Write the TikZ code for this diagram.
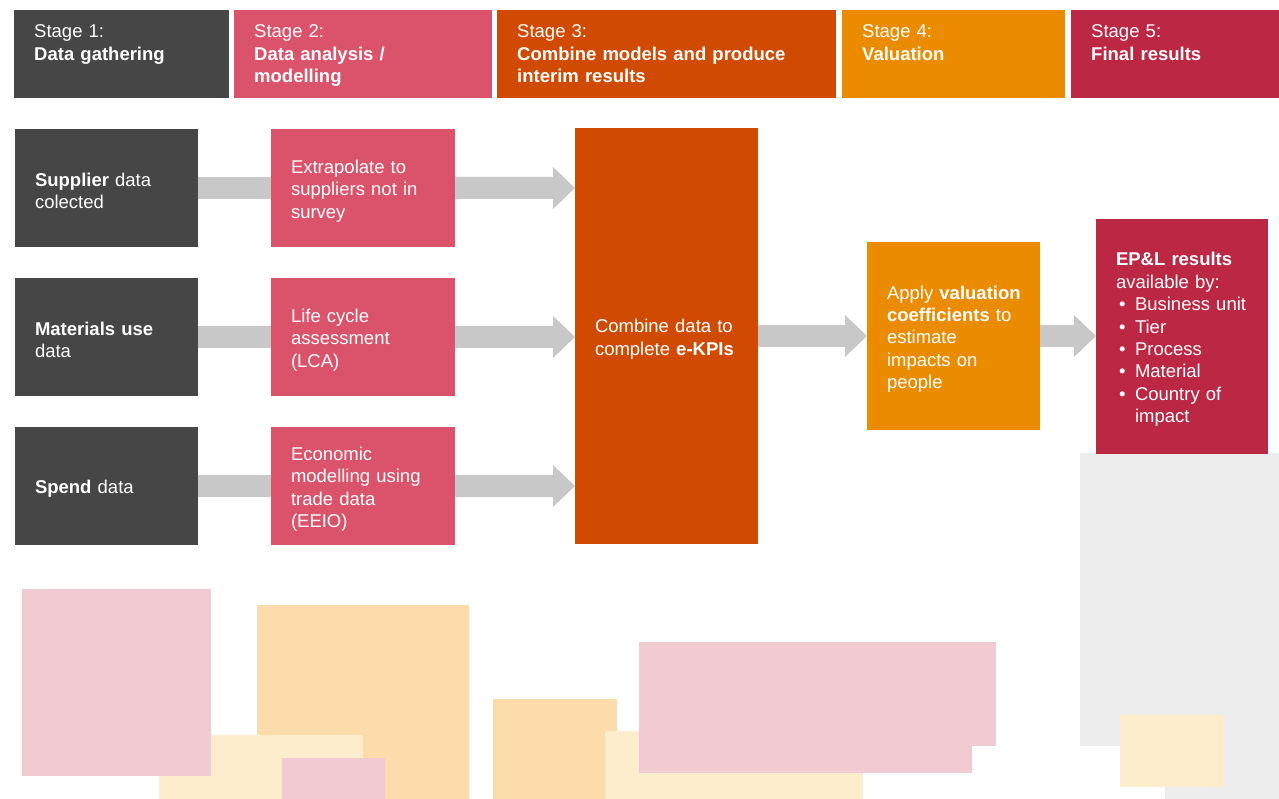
\documentclass[tikz,border=0pt]{standalone}
\usepackage{fontspec}
\setmainfont{Liberation Sans}
\usetikzlibrary{calc}
\definecolor{cdark}{HTML}{464646}
\definecolor{crose}{HTML}{DB536A}
\definecolor{corange}{HTML}{D04A02}
\definecolor{ctang}{HTML}{EB8C00}
\definecolor{cred}{HTML}{BC2743}
\definecolor{carrow}{HTML}{C8C8C8}
\definecolor{lpink}{HTML}{F2CAD2}
\definecolor{lorange}{HTML}{FDDCAC}
\definecolor{lyellow}{HTML}{FEEDCC}
\definecolor{lgray}{HTML}{EDEDED}
\hyphenpenalty=10000
\begin{document}
\begin{tikzpicture}[x=1pt,y=-1pt,
  txt/.style={font=\fontsize{18.5}{22.4}\selectfont, text=white, align=left},
  box/.style={txt, anchor=north west, inner xsep=20pt, inner ysep=0pt, outer sep=0pt,
    execute at begin node={\rule{0pt}{19.5pt}}},
  hdrbox/.style={anchor=north west, inner sep=0pt, outer sep=0pt, minimum height=88pt},
  hdrtxt/.style={txt, anchor=base west, inner sep=0pt},
  fat/.style={to path={-- ($(\tikztostart)+(0,-11)$) -- ($(\tikztotarget)+(-22,-11)$) -- ($(\tikztotarget)+(-22,-21)$) -- (\tikztotarget) -- ($(\tikztotarget)+(-22,21)$) -- ($(\tikztotarget)+(-22,11)$) -- ($(\tikztostart)+(0,11)$) -- cycle}}
]
\useasboundingbox (0,0) rectangle (1279,799);

% header
\node[hdrbox, fill=cdark, minimum width=215pt] (h1) at (14,10) {};
\node[hdrbox, fill=crose, minimum width=258pt] (h2) at (234,10) {};
\node[hdrbox, fill=corange, minimum width=339pt] (h3) at (497,10) {};
\node[hdrbox, fill=ctang, minimum width=223pt] (h4) at (842,10) {};
\node[hdrbox, fill=cred, minimum width=208pt] (h5) at (1071,10) {};
\node[hdrtxt, text width=190pt] (t1) at ($(h1.north west)+(20,28)$) {Stage 1:\\\textbf{Data gathering}};
\node[hdrtxt, text width=230pt] (t2) at ($(h2.north west)+(20,28)$) {Stage 2:\\\textbf{Data analysis /}\\\textbf{modelling}};
\node[hdrtxt, text width=310pt] (t3) at ($(h3.north west)+(20,28)$) {Stage 3:\\\textbf{Combine models and produce}\\\textbf{interim results}};
\node[hdrtxt, text width=190pt] (t4) at ($(h4.north west)+(20,28)$) {Stage 4:\\\textbf{Valuation}};
\node[hdrtxt, text width=180pt] (t5) at ($(h5.north west)+(20,28)$) {Stage 5:\\\textbf{Final results}};

% stage 1 boxes
\node[box, fill=cdark, text width=143pt, minimum height=118pt] (s1) at (15,129) {\textbf{Supplier} data\\colected};
\node[box, fill=cdark, text width=143pt, minimum height=118pt] (s2) at (15,278) {\textbf{Materials use}\\data};
\node[box, fill=cdark, text width=143pt, minimum height=118pt] (s3) at (15,427) {\textbf{Spend} data};
% stage 2 boxes
\node[box, fill=crose, text width=144pt, minimum height=118pt] (p1) at (271,129) {Extrapolate to\\suppliers not in\\survey};
\node[box, fill=crose, text width=144pt, minimum height=118pt] (p2) at (271,278) {Life cycle\\assessment\\(LCA)};
\node[box, fill=crose, text width=144pt, minimum height=118pt] (p3) at (271,427) {Economic\\modelling using\\trade data\\(EEIO)};
% stage 3
\node[box, fill=corange, text width=143pt, minimum height=416pt] (o) at (575,128) {Combine data to\\complete \textbf{e-KPIs}};
% stage 4
\node[box, fill=ctang, text width=133pt, minimum height=188pt] (v) at (867,242) {\mbox{Apply \textbf{valuation}}\\\mbox{\textbf{coefficients} to}\\estimate\\impacts on\\people};

% decorative shapes (bottom)
\fill[lgray] (1080,453) rectangle (1279,746);
\fill[lgray] (1165,746) rectangle (1279,799);
\fill[lyellow] (1120,715) rectangle (1224,787);
\fill[lorange] (257,605) rectangle (469,799);
\fill[lyellow] (159,735) rectangle (363,799);
\fill[lpink] (22,589) rectangle (211,776);
\fill[lpink] (282,758) rectangle (385,799);
\fill[lorange] (493,699) rectangle (617,799);
\fill[lyellow] (605,731) rectangle (863,799);
\fill[lpink] (639,642) rectangle (996,746);
\fill[lpink] (639,746) rectangle (972,773);

% stage 5
\node[box, fill=cred, text width=132pt, minimum height=235pt] (f) at (1096,219) {\textbf{EP\&L results}\\available by:\\\makebox[19pt][l]{\hspace{3pt}•}Business unit\\\makebox[19pt][l]{\hspace{3pt}•}Tier\\\makebox[19pt][l]{\hspace{3pt}•}Process\\\makebox[19pt][l]{\hspace{3pt}•}Material\\\makebox[19pt][l]{\hspace{3pt}•}Country of\\\hspace*{19pt}impact};

% arrows
\fill[carrow] ($(s1.east)+(0,-11)$) rectangle ($(p1.west)+(0,11)$);
\fill[carrow] ($(s2.east)+(0,-11)$) rectangle ($(p2.west)+(0,11)$);
\fill[carrow] ($(s3.east)+(0,-11)$) rectangle ($(p3.west)+(0,11)$);
\coordinate (e1) at (o.west |- p1.east);
\coordinate (e2) at (o.west |- p2.east);
\coordinate (e3) at (o.west |- p3.east);
\coordinate (e4) at (o.east |- v.west);
\coordinate (e5) at (f.west |- v.east);
\fill[carrow] (p1.east) to[fat] (e1);
\fill[carrow] (p2.east) to[fat] (e2);
\fill[carrow] (p3.east) to[fat] (e3);
\fill[carrow] (e4) to[fat] (v.west);
\fill[carrow] (v.east) to[fat] (e5);
\end{tikzpicture}
\end{document}
